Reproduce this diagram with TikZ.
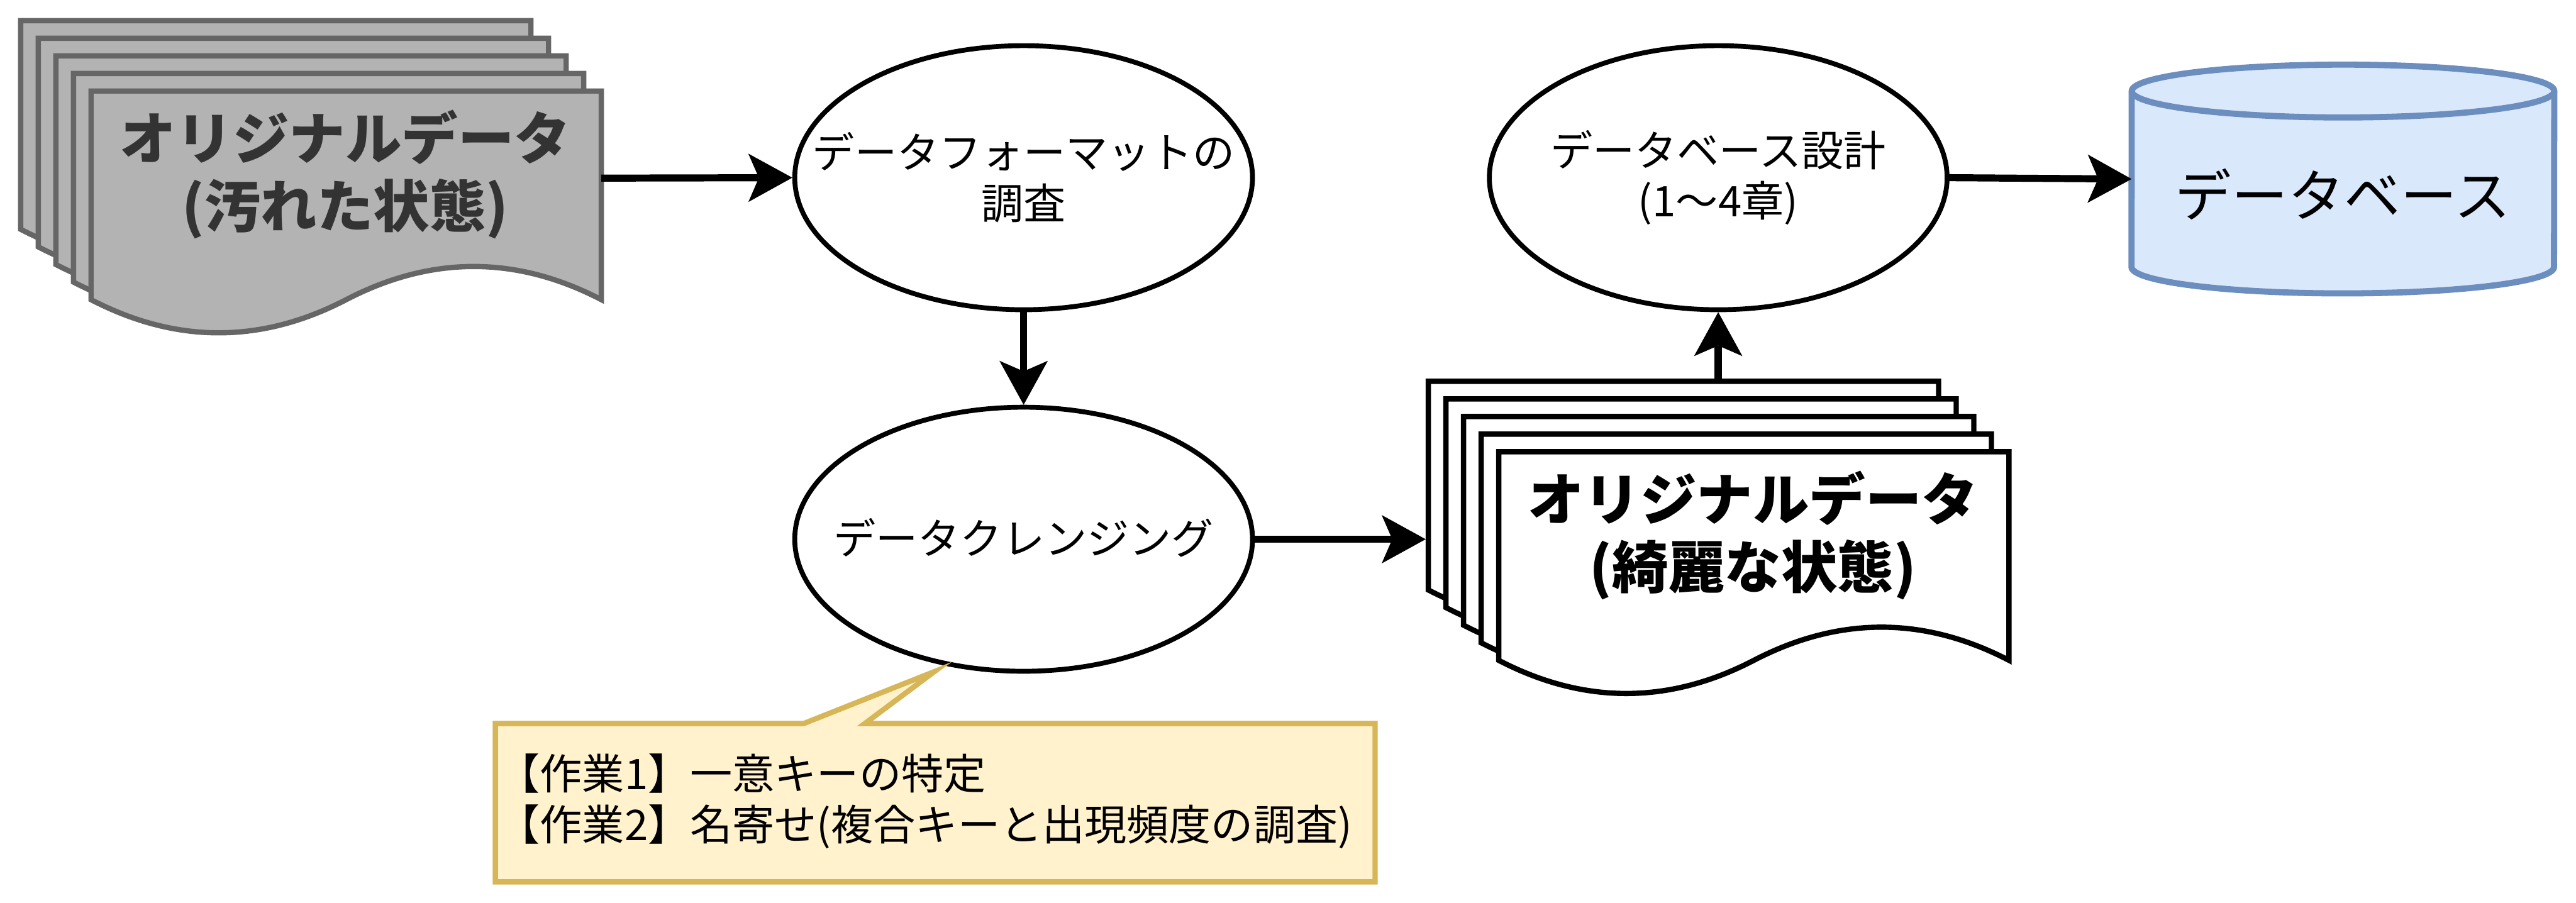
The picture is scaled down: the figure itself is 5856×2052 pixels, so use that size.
\documentclass[tikz,border=0pt]{standalone}
\usepackage{fontspec}
\setmainfont{Noto Sans CJK JP}
\usetikzlibrary{arrows.meta,shapes.geometric}
\definecolor{gfill}{HTML}{B3B3B3}
\definecolor{gline}{HTML}{666666}
\definecolor{gtext}{HTML}{333333}
\definecolor{dbfill}{HTML}{DAE8FC}
\definecolor{dbline}{HTML}{6C8EBF}
\definecolor{notefill}{HTML}{FFF2CC}
\definecolor{noteline}{HTML}{D6B656}
\begin{document}
\begin{tikzpicture}[x=0.01cm,y=-0.01cm,
  docpage/.pic={\path[pic actions] (0,0) -- (1160,0) -- (1160,474.3)
      .. controls (966.7,373.8) and (773.3,373.8) .. (580,474.3)
      .. controls (386.7,574.8) and (193.3,574.8) .. (0,474.3) -- cycle;},
  graydoc/.style={draw=gline, fill=gfill, line width=0.12cm},
  whitedoc/.style={draw=black, fill=white, line width=0.12cm},
  ell/.style={ellipse, draw=black, fill=white, line width=0.11cm,
    minimum width=10.4cm, minimum height=6cm, inner sep=0pt},
  elltext/.style={inner sep=0pt, align=center,
    font=\fontsize{27.3pt}{32.8pt}\selectfont},
  doctext/.style={inner sep=0pt, align=center,
    font=\fontsize{36.4pt}{43.8pt}\selectfont\bfseries},
  arr/.style={line width=0.16cm,
    -{Stealth[length=1cm, width=1.1cm, inset=0.24cm, line width=0pt]}},
  ]
\useasboundingbox (0,0) rectangle (5856,2052);

% dirty data stack
\foreach \i in {0,...,4}
  \pic[graydoc] at ({47+40*\i},{47+40*\i}) {docpage};
\node[doctext, text=gtext] (dirty) at (785,397) {オリジナルデータ\\(汚れた状態)};
\coordinate (dirtyR) at (1367,405);

% clean data stack
\foreach \i in {0,...,4}
  \pic[whitedoc] at ({3247+40*\i},{867+40*\i}) {docpage};
\node[doctext, text=black] (clean) at (3985,1217) {オリジナルデータ\\(綺麗な状態)};
\coordinate (cleanL) at (3241,1226);
\coordinate (cleanT) at (3906,861);

% process ellipses
\node[ell] (fmt) at (2327,404) {};
\node[elltext] (fmtt) at (fmt.center) {データフォーマットの\\調査};
\node[ell] (cln) at (2327,1226) {};
\node[elltext] (clnt) at ([yshift=0.04cm]cln.center) {データクレンジング};
\node[ell] (dsg) at (3906,404) {};
\node[elltext] (dsgt) at (dsg.center) {データベース設計\\(1〜4章)};

% database cylinder
\node[rectangle, inner sep=0pt, outer sep=0pt, minimum width=9.6cm, minimum height=5.2cm] (dbs) at (5326,407) {};
\draw[draw=dbline, fill=dbfill, line width=0.14cm]
  (4846,207) arc[start angle=180, end angle=0, x radius=4.8cm, y radius=0.6cm]
  -- (5806,607) arc[start angle=0, end angle=-180, x radius=4.8cm, y radius=0.6cm]
  -- cycle;
\draw[draw=dbline, line width=0.14cm]
  (4846,207) arc[start angle=180, end angle=360, x radius=4.8cm, y radius=0.6cm];
\node[inner sep=0pt, font=\fontsize{36.4pt}{43.8pt}\selectfont] (dbl) at (5326,442) {データベース};

% connectors
\draw[arr] (dirtyR) -- (fmt.west);
\draw[arr] (fmt.south) -- (cln.north);
\draw[arr] (cln.east) -- (cleanL);
\draw[arr] (cleanT) -- (dsg.south);
\draw[arr] (dsg.east) -- (dbs.west);

% callout
\draw[draw=noteline, fill=notefill, line width=0.12cm]
  (1126,1645) -- (1827,1645) -- (2124,1527) -- (1966,1645) -- (3126,1645)
  -- (3126,2005) -- (1126,2005) -- cycle;
\node[anchor=west, inner sep=0pt, align=left,
  font=\fontsize{27.3pt}{32.8pt}\selectfont] (note) at (1131,1822)
  {【作業1】一意キーの特定\\【作業2】名寄せ(複合キーと出現頻度の調査)};
\end{tikzpicture}
\end{document}
